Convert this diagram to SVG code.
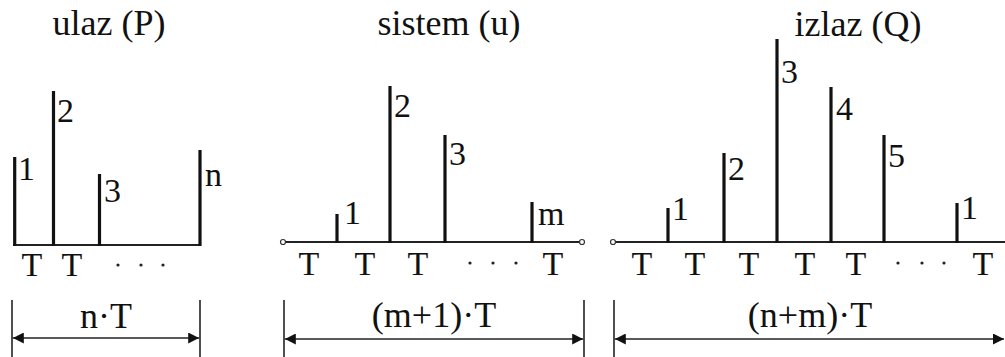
<svg xmlns="http://www.w3.org/2000/svg" width="1005" height="357" viewBox="0 0 1005 357" font-family="'Liberation Serif', 'DejaVu Serif', serif">
<style>
text{font-family:'Liberation Serif','DejaVu Serif',serif;fill:#111}
.title{font-size:36px;text-anchor:middle}
.lbl{font-size:34px}
.t{font-size:34px;text-anchor:middle}
.dim{font-size:36px;text-anchor:middle}
.stick{stroke:#111;stroke-width:3.2;fill:none}
.axis{stroke:#222;stroke-width:2;fill:none}
.tick{stroke:#222;stroke-width:1.6;fill:none}
.dimline{stroke:#222;stroke-width:1.6;fill:none;marker-start:url(#ah);marker-end:url(#ah)}
.end{fill:#fff;stroke:#333;stroke-width:1.2}
.dot{fill:#222}
</style>
<defs>
<marker id="ah" viewBox="0 0 10 10" refX="10" refY="5" markerWidth="11" markerHeight="11" markerUnits="userSpaceOnUse" orient="auto-start-reverse">
<path d="M0,0 L10,5 L0,10 Z" fill="#111"/>
</marker>
</defs>
<rect width="1005" height="357" fill="#fff"/>

<g id="panel-input">
<text class="title" x="109" y="35">ulaz (P)</text>
<line class="axis" x1="13" y1="245" x2="201" y2="245"/>
<line class="stick" x1="14.7" y1="157" x2="14.7" y2="246"/>
<line class="stick" x1="53.5" y1="91" x2="53.5" y2="246"/>
<line class="stick" x1="99.5" y1="174" x2="99.5" y2="246"/>
<line class="stick" x1="200" y1="150" x2="200" y2="246"/>
<text class="lbl" x="18" y="180">1</text>
<text class="lbl" x="57" y="122">2</text>
<text class="lbl" x="104" y="202">3</text>
<text class="lbl" x="205" y="186">n</text>
<text class="t" x="32" y="276">T</text>
<text class="t" x="72" y="276">T</text>
<circle class="dot" cx="118" cy="265" r="1.6"/>
<circle class="dot" cx="141" cy="265" r="1.6"/>
<circle class="dot" cx="163" cy="265" r="1.6"/>
<text class="dim" x="106" y="328">n·T</text>
</g>

<g id="panel-system">
<text class="title" x="449" y="35">sistem (u)</text>
<line class="axis" x1="285" y1="242" x2="580" y2="242"/>
<circle class="end" cx="283" cy="242" r="2.5"/>
<circle class="end" cx="582" cy="242" r="2.5"/>
<line class="stick" x1="337" y1="214" x2="337" y2="243"/>
<line class="stick" x1="390" y1="86" x2="390" y2="243"/>
<line class="stick" x1="445" y1="135" x2="445" y2="243"/>
<line class="stick" x1="532" y1="202" x2="532" y2="243"/>
<text class="lbl" x="344" y="224">1</text>
<text class="lbl" x="394" y="117">2</text>
<text class="lbl" x="449" y="165">3</text>
<text class="lbl" x="538" y="225">m</text>
<text class="t" x="309" y="275">T</text>
<text class="t" x="365" y="275">T</text>
<text class="t" x="418" y="275">T</text>
<text class="t" x="553" y="275">T</text>
<circle class="dot" cx="470" cy="263" r="1.6"/>
<circle class="dot" cx="493" cy="263" r="1.6"/>
<circle class="dot" cx="516" cy="263" r="1.6"/>
<text class="dim" x="434" y="327">(m+1)·T</text>
</g>

<g id="panel-output">
<text class="title" x="858" y="36">izlaz (Q)</text>
<line class="axis" x1="615" y1="242" x2="1005" y2="242"/>
<circle class="end" cx="613" cy="242" r="2.5"/>
<line class="stick" x1="668" y1="208" x2="668" y2="243"/>
<line class="stick" x1="724" y1="153" x2="724" y2="243"/>
<line class="stick" x1="777" y1="39" x2="777" y2="243"/>
<line class="stick" x1="831" y1="87" x2="831" y2="243"/>
<line class="stick" x1="884" y1="135" x2="884" y2="243"/>
<line class="stick" x1="957" y1="203" x2="957" y2="243"/>
<text class="lbl" x="672" y="220">1</text>
<text class="lbl" x="728" y="180">2</text>
<text class="lbl" x="781" y="83">3</text>
<text class="lbl" x="836" y="120">4</text>
<text class="lbl" x="888" y="167">5</text>
<text class="lbl" x="961" y="219">1</text>
<text class="t" x="642" y="275">T</text>
<text class="t" x="695" y="275">T</text>
<text class="t" x="749" y="275">T</text>
<text class="t" x="805" y="275">T</text>
<text class="t" x="856" y="275">T</text>
<text class="t" x="983" y="275">T</text>
<circle class="dot" cx="898" cy="263" r="1.6"/>
<circle class="dot" cx="922" cy="263" r="1.6"/>
<circle class="dot" cx="944" cy="263" r="1.6"/>
<text class="dim" x="810" y="327">(n+m)·T</text>
</g>

<g id="connectors">
<line class="tick" x1="12" y1="300" x2="12" y2="357"/>
<line class="tick" x1="200" y1="300" x2="200" y2="357"/>
<line class="dimline" x1="12.8" y1="338" x2="199.2" y2="338"/>
<line class="tick" x1="284" y1="300" x2="284" y2="357"/>
<line class="tick" x1="584" y1="300" x2="584" y2="357"/>
<line class="dimline" x1="284.8" y1="339" x2="583.2" y2="339"/>
<line class="tick" x1="614" y1="300" x2="614" y2="357"/>
<line class="dimline" x1="614.8" y1="339" x2="1004" y2="339"/>
</g>
</svg>
